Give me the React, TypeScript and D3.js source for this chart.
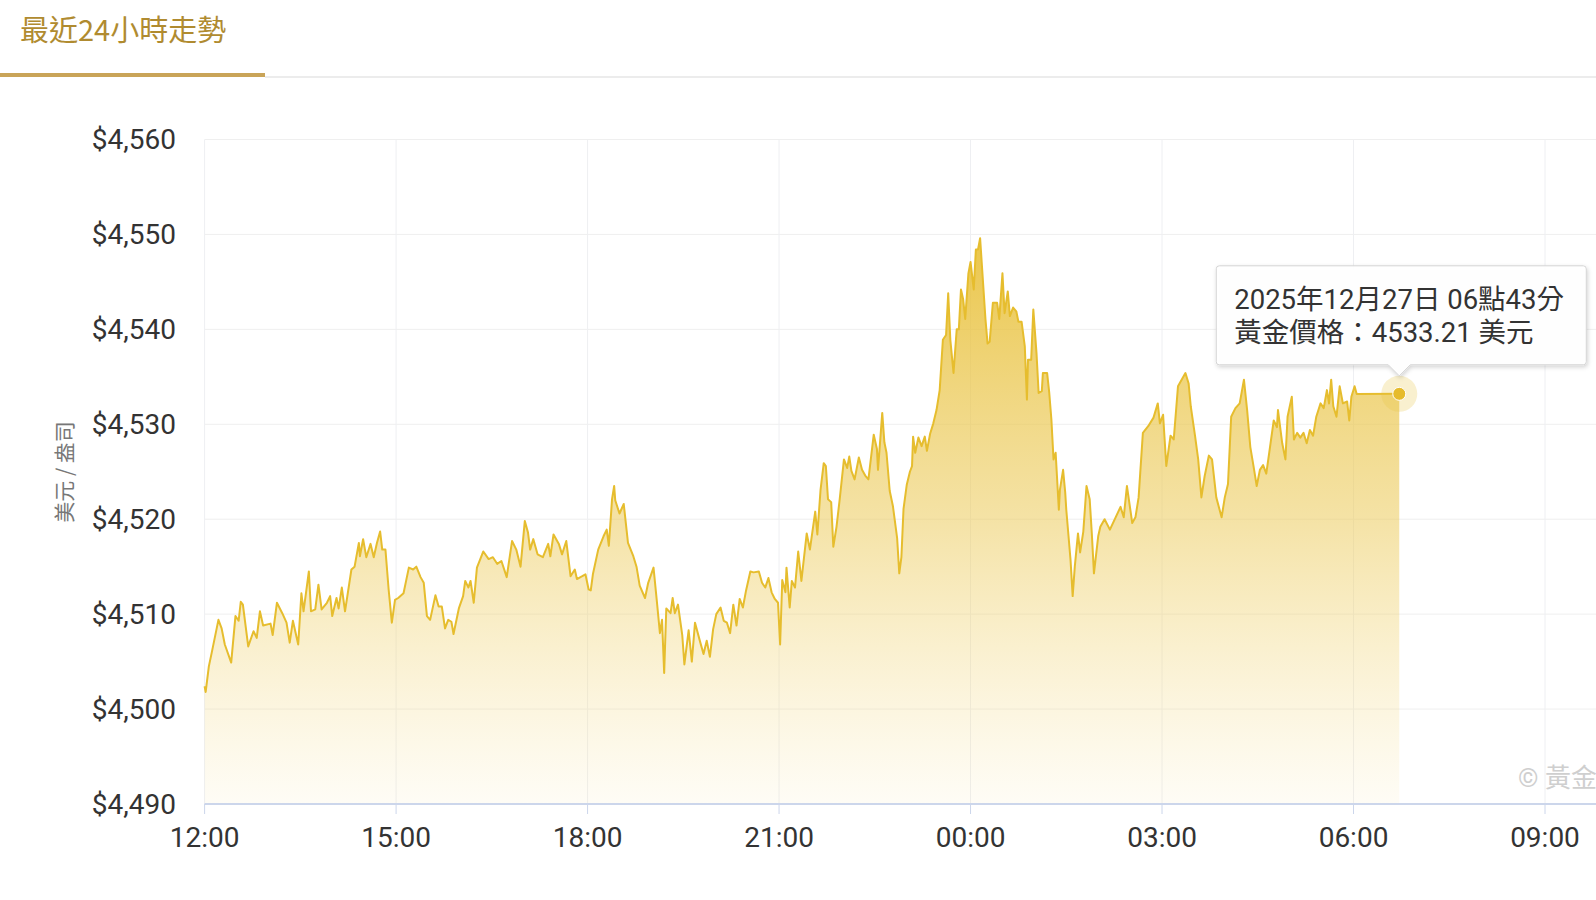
import React from 'react';
import * as d3 from 'd3';

// minutes since 12:00 (Dec 26) and gold price in USD/oz
const minutesSinceNoon = [
  0, 1, 4, 7, 13, 16, 19, 25, 29, 32, 34, 36, 41, 46, 49, 52, 55, 62, 64, 68,
  73, 77, 80, 83, 88, 91, 93, 98, 100, 104, 107, 110, 115, 118, 120, 124, 126, 129, 132, 138,
  141, 145, 146, 149, 152, 156, 159, 162, 165, 167, 170, 173, 176, 179, 182, 187, 192, 196, 199, 203,
  206, 209, 212, 217, 220, 223, 226, 229, 232, 234, 239, 243, 245, 248, 250, 253, 256, 262, 267, 271,
  275, 279, 284, 289, 293, 297, 301, 304, 306, 309, 313, 318, 323, 325, 328, 333, 336, 340, 344, 348,
  350, 355, 358, 361, 363, 365, 370, 375, 378, 380, 383, 385, 386, 390, 394, 398, 403, 406, 409, 414,
  417, 422, 425, 428, 430, 432, 434, 438, 440, 442, 445, 449, 451, 455, 458, 461, 466, 469, 472, 475,
  478, 481, 485, 488, 491, 494, 497, 500, 503, 506, 509, 513, 516, 521, 524, 527, 530, 533, 536, 539,
  541, 543, 546, 547, 550, 552, 555, 558, 561, 566, 569, 574, 576, 579, 582, 584, 586, 589, 591, 594,
  597, 601, 604, 606, 608, 611, 615, 618, 621, 624, 629, 632, 633, 637, 639, 641, 644, 647, 651, 653,
  655, 657, 660, 663, 665, 666, 668, 671, 674, 677, 679, 682, 685, 688, 691, 694, 697, 699, 701, 704,
  707, 709, 711, 713, 715, 718, 720, 723, 725, 727, 729, 731, 734, 736, 738, 741, 745, 747, 750, 752,
  755, 757, 760, 763, 765, 768, 771, 773, 774, 777, 779, 782, 784, 787, 788, 792, 794, 796, 798, 800,
  803, 804, 807, 809, 810, 814, 816, 818, 821, 823, 826, 829, 832, 834, 836, 840, 842, 846, 851, 861,
  864, 867, 872, 875, 878, 882, 887, 892, 896, 898, 901, 904, 908, 911, 915, 922, 925, 927, 931, 934,
  937, 940, 944, 947, 951, 956, 959, 962, 965, 969, 973, 977, 980, 983, 986, 989, 992, 995, 998, 1002,
  1005, 1008, 1009, 1013, 1016, 1018, 1022, 1024, 1027, 1030, 1033, 1036, 1039, 1042, 1045, 1049, 1052, 1055, 1057, 1059,
  1061, 1064, 1067, 1070, 1074, 1076, 1078, 1081, 1083, 1123,
];

const priceUSD = [
  4502.4, 4501.8, 4504.5, 4506.1, 4509.4, 4508.5, 4506.8, 4504.9, 4509.8, 4509.3, 4511.3, 4511.0, 4506.6, 4508.2, 4507.5, 4510.3, 4508.8, 4509.0, 4507.8, 4511.2,
  4510.1, 4509.1, 4507.0, 4509.3, 4506.8, 4512.2, 4510.3, 4514.5, 4510.3, 4510.5, 4513.1, 4510.5, 4511.2, 4511.9, 4509.8, 4511.7, 4510.6, 4512.8, 4510.3, 4514.7,
  4515.0, 4517.5, 4516.1, 4517.9, 4516.0, 4517.4, 4516.0, 4517.5, 4518.7, 4516.8, 4516.8, 4512.6, 4509.1, 4511.5, 4511.7, 4512.2, 4514.9, 4514.7, 4515.0, 4513.9,
  4513.3, 4509.8, 4509.4, 4512.0, 4510.8, 4510.8, 4508.5, 4509.4, 4509.2, 4507.9, 4510.6, 4511.9, 4513.5, 4512.8, 4513.5, 4511.2, 4514.9, 4516.6, 4515.8, 4516.0,
  4515.3, 4515.6, 4513.9, 4517.7, 4516.8, 4515.0, 4519.8, 4518.6, 4516.8, 4517.9, 4516.3, 4516.0, 4517.4, 4516.1, 4518.4, 4517.4, 4516.3, 4517.7, 4514.0, 4514.7,
  4513.7, 4514.0, 4514.2, 4512.6, 4512.5, 4514.2, 4516.8, 4518.2, 4518.9, 4517.2, 4522.1, 4523.5, 4522.0, 4520.6, 4521.6, 4517.5, 4516.1, 4515.0, 4513.0, 4511.7,
  4513.3, 4514.9, 4511.5, 4508.0, 4509.4, 4503.8, 4510.6, 4510.1, 4511.7, 4510.1, 4511.0, 4507.8, 4504.7, 4508.3, 4505.0, 4509.1, 4507.0, 4505.8, 4507.2, 4505.5,
  4508.4, 4510.0, 4510.7, 4509.3, 4509.1, 4508.0, 4511.0, 4508.8, 4511.6, 4510.7, 4512.5, 4514.5, 4514.4, 4514.5, 4513.3, 4512.8, 4513.8, 4512.3, 4511.6, 4511.2,
  4506.8, 4513.6, 4512.3, 4514.9, 4510.7, 4513.5, 4512.8, 4516.6, 4513.5, 4518.5, 4516.8, 4520.8, 4518.4, 4523.1, 4525.9, 4525.6, 4522.1, 4521.8, 4517.1, 4519.2,
  4522.1, 4526.3, 4525.4, 4526.6, 4525.1, 4524.2, 4526.5, 4525.2, 4524.6, 4524.2, 4528.9, 4527.4, 4525.2, 4531.2, 4528.1, 4527.0, 4523.0, 4521.4, 4518.0, 4514.3,
  4516.0, 4521.1, 4523.6, 4525.0, 4525.6, 4528.7, 4527.0, 4528.6, 4527.7, 4528.7, 4527.2, 4529.0, 4530.1, 4531.5, 4533.6, 4538.9, 4539.4, 4543.8, 4538.9, 4535.4,
  4540.0, 4540.0, 4544.2, 4543.2, 4541.1, 4545.9, 4547.1, 4544.2, 4548.4, 4548.4, 4549.6, 4546.2, 4541.1, 4538.5, 4538.7, 4542.8, 4542.8, 4541.1, 4545.9, 4541.7,
  4544.0, 4541.4, 4542.3, 4541.9, 4540.8, 4540.8, 4538.2, 4532.6, 4536.8, 4536.8, 4542.1, 4537.5, 4533.3, 4533.5, 4535.4, 4535.4, 4533.3, 4530.5, 4526.3, 4527.0,
  4521.0, 4523.1, 4525.2, 4522.8, 4521.0, 4515.7, 4511.9, 4515.0, 4518.5, 4516.5, 4518.7, 4523.5, 4522.1, 4518.5, 4514.3, 4518.2, 4519.2, 4520.0, 4518.9, 4521.3,
  4520.2, 4523.5, 4519.6, 4520.2, 4522.3, 4529.1, 4529.8, 4530.7, 4532.2, 4530.1, 4531.0, 4525.6, 4528.8, 4528.4, 4534.0, 4535.4, 4534.3, 4531.9, 4528.8, 4526.3,
  4522.3, 4524.5, 4526.7, 4526.3, 4522.3, 4520.2, 4522.3, 4523.7, 4530.8, 4531.7, 4532.2, 4534.7, 4531.5, 4527.6, 4525.6, 4523.5, 4525.2, 4525.7, 4524.8, 4528.0,
  4530.4, 4529.7, 4531.5, 4528.0, 4526.3, 4530.8, 4532.9, 4528.4, 4529.1, 4528.6, 4529.1, 4528.0, 4529.4, 4528.8, 4530.8, 4532.2, 4531.7, 4533.6, 4532.2, 4534.7,
  4531.9, 4530.8, 4534.0, 4532.2, 4532.4, 4530.4, 4532.9, 4534.0, 4533.2, 4533.21,
];

const yTickValues = [4490, 4500, 4510, 4520, 4530, 4540, 4550, 4560];
const xTickMinutes = [0, 180, 360, 540, 720, 900, 1080, 1260];
const xTickLabels = ['12:00', '15:00', '18:00', '21:00', '00:00', '03:00', '06:00', '09:00'];

const titleText = '最近24小時走勢';
const yAxisTitle = '美元 / 盎司';
const tooltipDate = '2025年12月27日 06點43分';
const tooltipPrice = '黃金價格：4533.21 美元';
const watermark = '© 黃金';

const W = 1596;
const H = 900;

export default function App() {
  const x = d3.scaleLinear().domain([0, 1260]).range([204.6, 1545]);
  const y = d3.scaleLinear().domain([4490, 4560]).range([804, 139.5]);
  const data = minutesSinceNoon.map((m, i) => ({ m, v: priceUSD[i] }));

  const line = d3.line<{ m: number; v: number }>().x((d) => x(d.m)).y((d) => y(d.v));
  const area = d3
    .area<{ m: number; v: number }>()
    .x((d) => x(d.m))
    .y0(y(4490))
    .y1((d) => y(d.v));

  const last = data[data.length - 1];
  const px = x(last.m);
  const py = y(last.v);

  const plotLeft = x(0);
  const plotRight = W;
  const plotTop = y(4560);
  const plotBottom = y(4490);

  // tooltip geometry relative to the last point
  const bx0 = px - 183;
  const bx1 = px + 187;
  const by0 = py - 128;
  const by1 = py - 29;
  const tipY = py - 18;
  const r = 3;
  const tooltipPath = [
    `M ${bx0 + r} ${by0}`,
    `L ${bx1 - r} ${by0}`,
    `Q ${bx1} ${by0} ${bx1} ${by0 + r}`,
    `L ${bx1} ${by1 - r}`,
    `Q ${bx1} ${by1} ${bx1 - r} ${by1}`,
    `L ${px + 11} ${by1}`,
    `L ${px} ${tipY}`,
    `L ${px - 11} ${by1}`,
    `L ${bx0 + r} ${by1}`,
    `Q ${bx0} ${by1} ${bx0} ${by1 - r}`,
    `L ${bx0} ${by0 + r}`,
    `Q ${bx0} ${by0} ${bx0 + r} ${by0}`,
    'Z',
  ].join(' ');

  const axisFont = "Roboto, 'Noto Sans', sans-serif";
  const cjkFont = "Roboto, 'Noto Sans CJK TC', 'Noto Sans', sans-serif";

  return (
    <svg
      width={W}
      height={H}
      viewBox={`0 0 ${W} ${H}`}
      style={{ position: 'absolute', left: 0, top: 0, background: '#ffffff' }}
    >
      <defs>
        <linearGradient id="goldFill" gradientUnits="userSpaceOnUse" x1="0" y1={y(4550)} x2="0" y2={plotBottom}>
          <stop offset="0" stopColor="#e8bf35" stopOpacity="0.9" />
          <stop offset="0.5" stopColor="#eccb5c" stopOpacity="0.55" />
          <stop offset="1" stopColor="#f5dc8a" stopOpacity="0.08" />
        </linearGradient>
        <filter id="tipShadow" x="-10%" y="-20%" width="130%" height="150%">
          <feDropShadow dx="1" dy="2" stdDeviation="2" floodColor="#000" floodOpacity="0.18" />
        </filter>
      </defs>

      {/* title tab */}
      <text
        x={20}
        y={41}
        fontFamily="'Noto Sans CJK TC', sans-serif"
        fontSize={29}
        fill="#b08b30"
      >
        {titleText}
      </text>
      <line x1={265} x2={W} y1={77} y2={77} stroke="#e6e6e6" strokeWidth={1.5} />
      <rect x={0} y={73} width={265} height={4} fill="#c9a458" />

      {/* horizontal grid */}
      {yTickValues.map((v) => (
        <line key={`hg${v}`} x1={plotLeft} x2={plotRight} y1={y(v)} y2={y(v)} stroke="#efefef" strokeWidth={1} />
      ))}
      {/* vertical grid */}
      {xTickMinutes.map((m) => (
        <line key={`vg${m}`} x1={x(m)} x2={x(m)} y1={plotTop} y2={plotBottom} stroke="#eeeff2" strokeWidth={1} />
      ))}

      {/* area + line */}
      <path d={area(data) || ''} fill="url(#goldFill)" />
      <path d={line(data) || ''} fill="none" stroke="#e6bd2e" strokeWidth={2} strokeLinejoin="round" />

      {/* watermark */}
      <text x={1518} y={787} fontFamily={cjkFont} fontSize={26} fill="#cfcfcf">
        {watermark}
      </text>

      {/* x axis */}
      <line x1={plotLeft} x2={plotRight} y1={plotBottom} y2={plotBottom} stroke="#ccd6eb" strokeWidth={2} />
      {xTickMinutes.map((m, i) => (
        <g key={`xt${m}`}>
          <line x1={x(m)} x2={x(m)} y1={plotBottom} y2={plotBottom + 10} stroke="#ccd6eb" strokeWidth={1} />
          <text x={x(m)} y={847} textAnchor="middle" fontFamily={axisFont} fontSize={28} fill="#333">
            {xTickLabels[i]}
          </text>
        </g>
      ))}

      {/* y axis labels */}
      {yTickValues.map((v) => (
        <text
          key={`yt${v}`}
          x={176}
          y={y(v)}
          dy="0.35em"
          textAnchor="end"
          fontFamily={axisFont}
          fontSize={28}
          fill="#333"
        >
          {'$' + d3.format(',')(v)}
        </text>
      ))}
      <text
        transform={`translate(72, 472) rotate(-90)`}
        textAnchor="middle"
        fontFamily="'Noto Sans CJK TC', sans-serif"
        fontSize={21}
        fill="#777"
      >
        {yAxisTitle}
      </text>

      {/* hover marker */}
      <circle cx={px} cy={py} r={18} fill="#e9c240" fillOpacity={0.25} />
      <circle cx={px} cy={py} r={6.5} fill="#e6bb2c" stroke="#fff" strokeWidth={1} />

      {/* tooltip */}
      <path d={tooltipPath} fill="#ffffff" fillOpacity={0.96} stroke="#d4d4d4" strokeWidth={1} filter="url(#tipShadow)" />
      <text x={bx0 + 18} y={by0 + 43} fontFamily={cjkFont} fontSize={27.5} fill="#333">
        {tooltipDate}
      </text>
      <text x={bx0 + 18} y={by0 + 76} fontFamily={cjkFont} fontSize={27.5} fill="#333">
        {tooltipPrice}
      </text>
    </svg>
  );
}
